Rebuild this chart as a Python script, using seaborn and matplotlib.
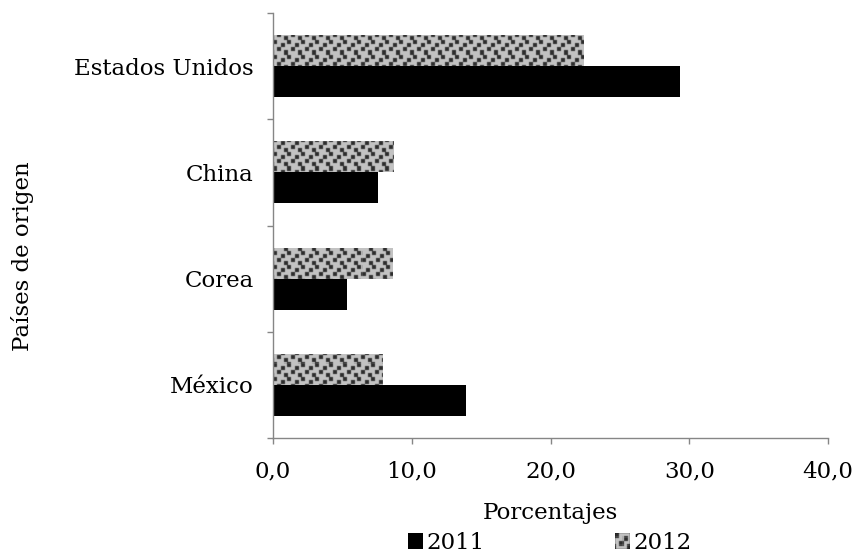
import numpy as np
import pandas as pd
import matplotlib
matplotlib.use("Agg")
import matplotlib.pyplot as plt
from matplotlib.patches import Patch
import seaborn as sns

# Share of patents by country of origin (percent)
paises = ["Estados Unidos", "China", "Corea", "México"]
valores_2011 = [29.3, 7.6, 5.3, 13.9]
valores_2012 = [22.4, 8.7, 8.6, 7.9]
anios = ["2011", "2012"]
ticks_x = [0, 10, 20, 30, 40]

df = pd.DataFrame({
    "País": paises * 2,
    "Año": [anios[0]] * len(paises) + [anios[1]] * len(paises),
    "Porcentaje": valores_2011 + valores_2012,
})

sns.set_style("white")
plt.rcParams["font.family"] = ["DejaVu Serif"]
plt.rcParams["text.color"] = "black"
plt.rcParams["axes.labelcolor"] = "black"
plt.rcParams["xtick.color"] = "black"
plt.rcParams["ytick.color"] = "black"
FS = 16.5
AXIS_GRAY = "#868686"
LIGHT = "#c0c0c0"

fig = plt.figure(figsize=(8.54, 5.54), dpi=100)
ax = fig.add_axes([273 / 854, 1 - 438 / 554, 555 / 854, 425 / 554])

sns.barplot(data=df, y="País", x="Porcentaje", hue="Año", hue_order=["2012", "2011"],
            order=paises, orient="h", width=0.585, saturation=1,
            palette={"2011": "black", "2012": LIGHT}, linewidth=0,
            legend=False, ax=ax)

ax.set_xlim(0, 40)
ax.set_ylim(3.5, -0.5)
ax.set_xticks(ticks_x)
ax.set_xticklabels([f"{v:.1f}".replace(".", ",") for v in ticks_x], fontsize=FS)
ax.set_yticks(range(len(paises)))
ax.set_yticklabels(paises, fontsize=FS)
ax.set_yticks(np.arange(-0.5, len(paises)), minor=True)
ax.tick_params(axis="y", which="major", length=0, pad=14)
ax.tick_params(axis="y", which="minor", length=4.5, width=1, color=AXIS_GRAY, direction="out", left=True)
ax.tick_params(axis="x", which="major", length=4.5, width=1, color=AXIS_GRAY, direction="out",
               bottom=True, pad=12)

for side in ["top", "right"]:
    ax.spines[side].set_visible(False)
for side in ["left", "bottom"]:
    ax.spines[side].set_color(AXIS_GRAY)
    ax.spines[side].set_linewidth(1)

ax.set_xlabel("Porcentajes", fontsize=FS, labelpad=14)
ax.set_ylabel("Países de origen", fontsize=FS)
ax.yaxis.set_label_coords(-0.43, 0.428)


def textura(h, w):
    """Light grey ground with scattered dark squares (confetti fill), softened."""
    img = np.full((h, w), 0.76)
    yy, xx = np.mgrid[0:h, 0:w]
    tx, ty = xx % 14, yy % 14
    for (x0, y0) in [(0, 0), (8, 3), (4, 7), (11, 10)]:
        img[((tx - x0) % 14 < 4) & ((ty - y0) % 14 < 4)] = 0.18
    k = np.array([0.15, 0.7, 0.15])
    img = np.apply_along_axis(lambda r: np.convolve(r, k, mode="same"), 1, img)
    img = np.apply_along_axis(lambda c: np.convolve(c, k, mode="same"), 0, img)
    return img


tex = textura(425, 555)
for bar in ax.patches:
    fc = bar.get_facecolor()
    if fc[0] > 0.5:  # 2012 bars
        im = ax.imshow(tex, cmap="gray", vmin=0, vmax=1, extent=(0, 40, 3.5, -0.5),
                       aspect="auto", interpolation="nearest", zorder=bar.get_zorder() + 0.1)
        im.set_clip_path(bar)
ax.set_xlim(0, 40)
ax.set_ylim(3.5, -0.5)

handles = [Patch(facecolor="black", edgecolor="none"), Patch(facecolor=LIGHT, edgecolor="none")]
leg = fig.legend(handles, anios, loc="center", bbox_to_anchor=(550 / 854, 1 - 543 / 554), ncol=2,
                 frameon=False, fontsize=FS, handlelength=0.65, handleheight=0.65,
                 handletextpad=0.15, columnspacing=5.7, borderpad=0.1)

# Textured swatch for the 2012 legend entry
fig.canvas.draw()
sw = leg.get_patches()[1]
bb = sw.get_window_extent().transformed(fig.transFigure.inverted())
sax = fig.add_axes([bb.x0, bb.y0, bb.width, bb.height])
sax.set_zorder(10)
sax.imshow(textura(14, 14), cmap="gray", vmin=0, vmax=1, aspect="auto", interpolation="nearest")
sax.axis("off")

fig.savefig("out.png", dpi=100)
